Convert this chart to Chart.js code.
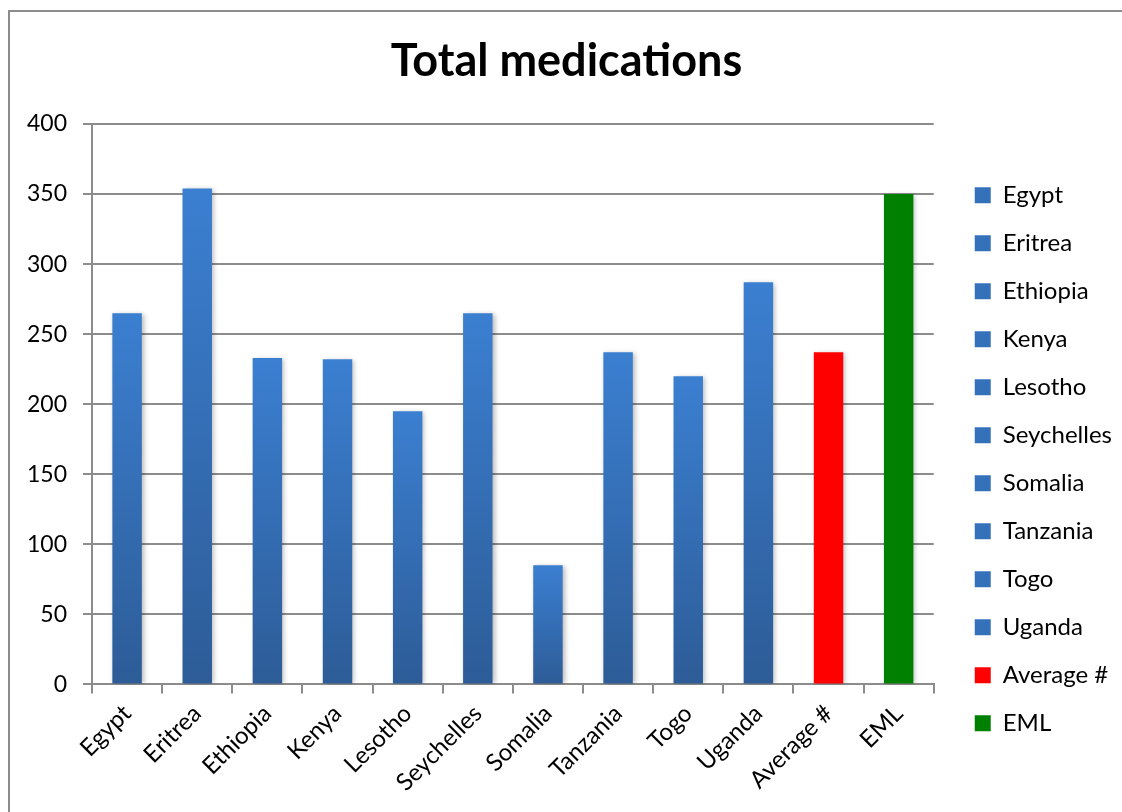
<!DOCTYPE html>
<html>
<head>
<meta charset="utf-8">
<script src="https://cdn.jsdelivr.net/npm/chart.js@4.4.0/dist/chart.umd.min.js"></script>
<style>
  html, body { margin: 0; padding: 0; background: #fff; overflow: hidden; }
  #frame { position: absolute; left: 8px; top: 10px; width: 1200px; height: 900px; border: 2px solid #8c8c8c; box-sizing: border-box; }
  #wrap { position: absolute; left: 0; top: 0; width: 1122px; height: 812px; }
</style>
</head>
<body>
<div id="frame"></div>
<div id="wrap"><canvas id="c" width="1122" height="812"></canvas></div>
<script>
const categories = ['Egypt','Eritrea','Ethiopia','Kenya','Lesotho','Seychelles','Somalia','Tanzania','Togo','Uganda','Average #','EML'];
const totals = [265, 354, 233, 232, 195, 265, 85, 237, 220, 287, 237, 350];
const yTicks = [0, 50, 100, 150, 200, 250, 300, 350, 400];
const specialColors = { 'Average #': '#ff0000', 'EML': '#008000' };

const BLUE_TOP = '#3b7fd1';
const BLUE_BOTTOM = '#2d5c97';
const FONT = 'Lato, "Open Sans", sans-serif';

function barFill(ctx) {
  const label = categories[ctx.dataIndex];
  if (specialColors[label]) return specialColors[label];
  const chart = ctx.chart;
  if (!chart.chartArea || !chart.scales.y) return BLUE_TOP;
  const y = chart.scales.y;
  const top = y.getPixelForValue(ctx.raw);
  const bottom = y.getPixelForValue(0);
  const g = chart.ctx.createLinearGradient(0, top, 0, bottom);
  g.addColorStop(0, BLUE_TOP);
  g.addColorStop(1, BLUE_BOTTOM);
  return g;
}

const shadowPlugin = {
  id: 'barShadow',
  beforeDatasetsDraw(chart) {
    const c = chart.ctx;
    c.save();
    c.shadowColor = 'rgba(0,0,0,0.28)';
    c.shadowBlur = 5;
    c.shadowOffsetX = 2;
    c.shadowOffsetY = 1;
  },
  afterDatasetsDraw(chart) {
    chart.ctx.restore();
  }
};

new Chart(document.getElementById('c'), {
  type: 'bar',
  data: {
    labels: categories,
    datasets: [{
      label: 'Total medications',
      data: totals,
      backgroundColor: barFill,
      borderWidth: 0,
      barPercentage: 0.42,
      categoryPercentage: 1.0
    }]
  },
  options: {
    responsive: false,
    animation: false,
    devicePixelRatio: 1,
    layout: { padding: { left: 11, right: 0, top: 0, bottom: 9 } },
    plugins: {
      title: {
        display: true,
        text: 'Total medications',
        color: '#000',
        font: { family: FONT, size: 45, weight: 'bold' },
        padding: { top: 34, bottom: 36 }
      },
      legend: {
        display: true,
        position: 'right',
        align: 'center',
        title: { display: true, text: '', font: { size: 12 }, padding: { top: 0, bottom: 101 } },
        labels: {
          color: '#000',
          font: { family: FONT, size: 24 },
          boxWidth: 16,
          boxHeight: 16,
          padding: 24,
          generateLabels(chart) {
            return categories.map((name, i) => ({
              text: name,
              fillStyle: specialColors[name] || '#3571bb',
              strokeStyle: 'rgba(0,0,0,0)',
              fontColor: '#000',
              lineWidth: 0,
              hidden: false,
              index: i,
              datasetIndex: 0
            }));
          }
        }
      },
      tooltip: { enabled: false }
    },
    scales: {
      x: {
        grid: {
          display: true,
          offset: true,
          drawOnChartArea: false,
          drawTicks: true,
          tickLength: 9,
          color: '#8c8c8c',
          lineWidth: 2
        },
        border: { display: true, color: '#8c8c8c', width: 2 },
        ticks: {
          color: '#000',
          font: { family: FONT, size: 24 },
          maxRotation: 45,
          minRotation: 45,
          autoSkip: false,
          padding: 6
        }
      },
      y: {
        min: 0,
        max: 400,
        afterBuildTicks(axis) { axis.ticks = yTicks.map(v => ({ value: v })); },
        grid: {
          color: '#8c8c8c',
          lineWidth: 2,
          drawTicks: true,
          tickLength: 9
        },
        border: { display: true, color: '#8c8c8c', width: 2 },
        ticks: {
          color: '#000',
          font: { family: FONT, size: 23 },
          padding: 16
        }
      },
      gap: {
        type: 'linear',
        position: 'right',
        display: true,
        grid: { display: false },
        border: { display: false },
        ticks: { display: false },
        afterFit(scale) { scale.width = 17; }
      }
    }
  },
  plugins: [shadowPlugin]
});
</script>
</body>
</html>
